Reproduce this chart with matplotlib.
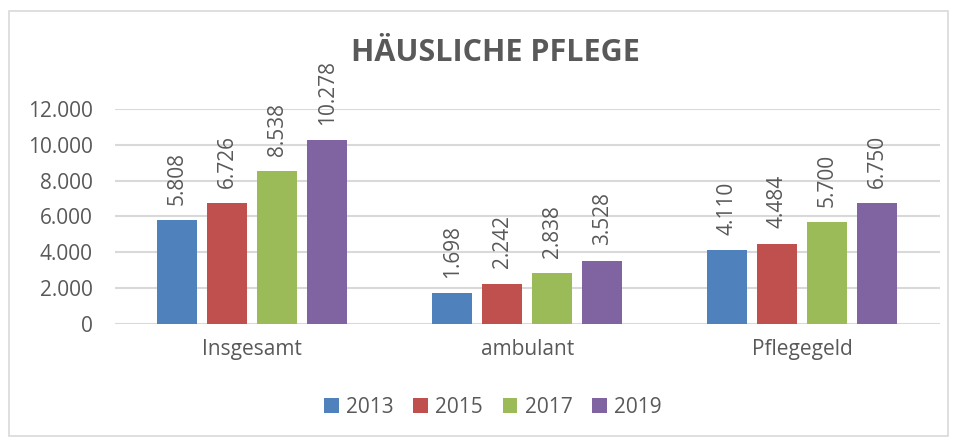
import matplotlib
matplotlib.use("Agg")
import matplotlib.pyplot as plt
import numpy as np
from matplotlib.patches import Rectangle

# data
categories = ["Insgesamt", "ambulant", "Pflegegeld"]
years = ["2013", "2015", "2017", "2019"]
values = {
    "2013": [5808, 1698, 4110],
    "2015": [6726, 2242, 4484],
    "2017": [8538, 2838, 5700],
    "2019": [10278, 3528, 6750],
}
colors = ["#4f81bd", "#c0504d", "#9bbb59", "#8064a2"]
text_col = "#595959"

plt.rcParams["font.family"] = ["Open Sans", "DejaVu Sans"]
fs = 15

fig = plt.figure(figsize=(9.57, 4.40), dpi=100)
ax = fig.add_axes([0.120, 0.264, 0.862, 0.488])

x = np.arange(len(categories))
width = 0.145
step = 0.182

def fmt(v):
    return f"{v:,}".replace(",", ".")

for i, yr in enumerate(years):
    pos = x + (i - 1.5) * step
    bars = ax.bar(pos, values[yr], width, color=colors[i], label=yr, zorder=3)
    for b, v in zip(bars, values[yr]):
        ax.annotate(fmt(v), (b.get_x() + b.get_width() / 2, v), xytext=(0, 11),
                    textcoords="offset points", rotation=90, ha="center", va="bottom",
                    fontsize=fs, color=text_col, annotation_clip=False)

ax.set_ylim(0, 12000)
ax.set_xlim(-0.5, 2.5)
ax.set_yticks(range(0, 12001, 2000))
ax.set_yticklabels([fmt(v) for v in range(0, 12001, 2000)])
ax.set_xticks(x)
ax.set_xticklabels(categories)
ax.tick_params(axis="both", length=0, labelsize=fs, labelcolor=text_col)
ax.tick_params(axis="x", pad=11)
ax.tick_params(axis="y", pad=16)
ax.grid(axis="y", color="#d9d9d9", linewidth=1.5, zorder=0)
for s in ax.spines.values():
    s.set_visible(False)

fig.text(0.518, 0.88, "HÄUSLICHE PFLEGE", ha="center", va="center",
         fontsize=22, fontweight="bold", color=text_col)

leg = fig.legend(loc="center", bbox_to_anchor=(0.515, 0.075), ncol=4, frameon=False,
                 fontsize=fs, handlelength=0.7, handleheight=0.7, handletextpad=0.35,
                 columnspacing=0.95)
for t in leg.get_texts():
    t.set_color(text_col)

fig.patches.append(Rectangle((0.009, 0.01), 0.982, 0.966, transform=fig.transFigure,
                             fill=False, edgecolor="#d9d9d9", linewidth=1.2))

fig.savefig("out.png", dpi=100)
